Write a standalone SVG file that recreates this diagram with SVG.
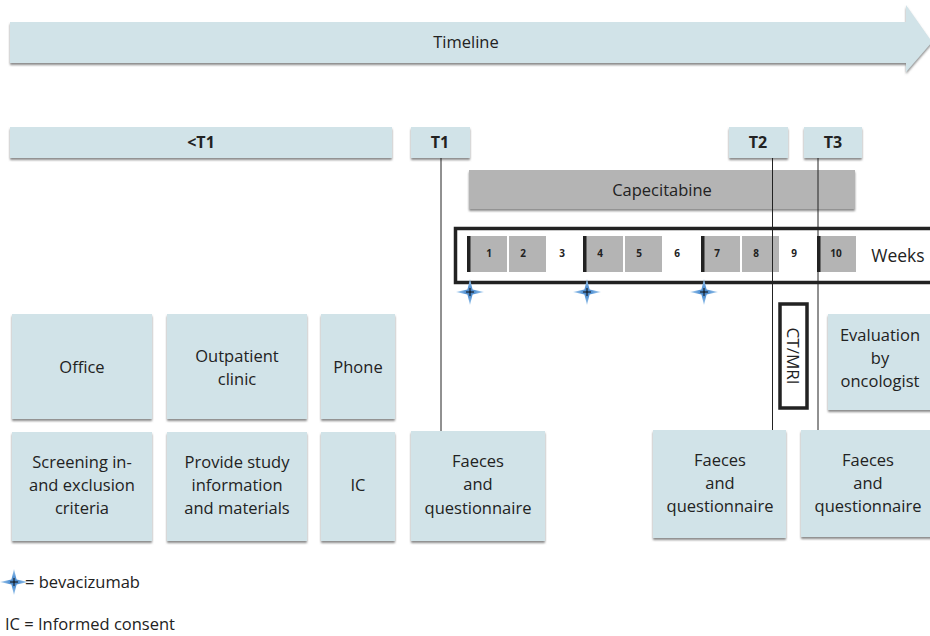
<svg xmlns="http://www.w3.org/2000/svg" width="930" height="636" viewBox="0 0 930 636">
<defs>
<filter id="sh" x="-10%" y="-10%" width="120%" height="130%">
<feDropShadow dx="0" dy="2" stdDeviation="1.2" flood-color="#6b6b6b" flood-opacity="0.8"/>
</filter>
<radialGradient id="sg" gradientUnits="userSpaceOnUse" cx="0" cy="0" r="14">
<stop offset="0" stop-color="#3f7cc0"/>
<stop offset="0.4" stop-color="#5d9ad8"/>
<stop offset="1" stop-color="#b3d4f0"/>
</radialGradient>
<g id="star">
<path d="M0,-13 L2.6,-2.6 L14,0 L2.6,2.6 L0,13 L-2.6,2.6 L-14,0 L-2.6,-2.6 Z" fill="url(#sg)"/>
<path d="M-4,0 H4 M0,-4 V4" stroke="#111" stroke-width="1"/>
</g>
</defs>
<style>
.b{fill:#d1e3e8;filter:url(#sh)}
.g{fill:#b4b4b4}
.t{font-family:"Open Sans","Liberation Sans",sans-serif;font-size:16.5px;fill:#222;text-anchor:middle}
.h{font-family:"Open Sans","Liberation Sans",sans-serif;font-size:16px;font-weight:bold;fill:#222;text-anchor:middle}
.w{font-family:"Open Sans","Liberation Sans",sans-serif;font-size:10px;font-weight:bold;fill:#222;text-anchor:middle}
.bar{fill:#222}
.ln{stroke:#222;stroke-width:1;fill:none}
</style>
<rect width="930" height="636" fill="#fff"/>

<g id="timeline">
<path class="b" d="M10,22 H906 V5 L932,42 L906,72 V63 H10 Z"/>
<text class="t" x="466" y="48">Timeline</text>
</g>

<g id="lt1"><rect class="b" x="10" y="127" width="382" height="31"/><text class="h" x="201" y="148">&lt;T1</text></g>
<g id="t1"><rect class="b" x="411" y="127" width="59" height="31"/><text class="h" x="440" y="148">T1</text></g>
<g id="t2"><rect class="b" x="729" y="127" width="59" height="31"/><text class="h" x="758" y="148">T2</text></g>
<g id="t3"><rect class="b" x="804" y="127" width="58" height="31"/><text class="h" x="833" y="148">T3</text></g>

<g id="capecitabine"><rect class="g" x="469" y="170" width="386" height="39" style="filter:url(#sh)"/><text class="t" x="662" y="196">Capecitabine</text></g>

<g id="weeks">
<rect x="455.5" y="228.5" width="490" height="54" fill="#fff" stroke="#222" stroke-width="3.5"/>
<rect class="g" x="467" y="236" width="40" height="36"/><rect class="bar" x="467" y="236" width="3.5" height="36"/>
<rect class="g" x="509" y="236" width="37" height="36"/>
<rect class="g" x="583" y="236" width="40" height="36"/><rect class="bar" x="583" y="236" width="3.5" height="36"/>
<rect class="g" x="625" y="236" width="37" height="36"/>
<rect class="g" x="701" y="236" width="39" height="36"/><rect class="bar" x="701" y="236" width="3.5" height="36"/>
<rect class="g" x="742" y="236" width="37" height="36"/>
<rect class="g" x="817" y="236" width="39" height="36"/><rect class="bar" x="817" y="236" width="3.5" height="36"/>
<text class="w" x="489" y="257">1</text>
<text class="w" x="523" y="257">2</text>
<text class="w" x="562" y="257">3</text>
<text class="w" x="600" y="257">4</text>
<text class="w" x="639" y="257">5</text>
<text class="w" x="677" y="257">6</text>
<text class="w" x="717" y="257">7</text>
<text class="w" x="756" y="257">8</text>
<text class="w" x="794" y="257">9</text>
<text class="w" x="836" y="257">10</text>
<text class="t" x="898" y="262" style="font-size:17.5px">Weeks</text>
</g>

<g id="stars">
<use href="#star" x="470" y="292"/>
<use href="#star" x="587" y="292"/>
<use href="#star" x="704" y="292"/>
</g>

<g id="connectors">
<line class="ln" x1="441" y1="158" x2="441" y2="431"/>
<line class="ln" x1="772.5" y1="158" x2="772.5" y2="430"/>
<line class="ln" x1="818" y1="158" x2="818" y2="430"/>
</g>

<g id="ctmri">
<rect x="780" y="304" width="27" height="104" fill="#fff" stroke="#222" stroke-width="3.5"/>
<text class="t" transform="translate(787,356) rotate(90)" x="0" y="0" style="font-size:17px">CT/MRI</text>
</g>

<g id="evaluation"><rect class="b" x="828" y="314" width="105" height="96"/>
<text class="t" x="880" y="341">Evaluation</text><text class="t" x="880" y="364">by</text><text class="t" x="880" y="387">oncologist</text></g>

<g id="office"><rect class="b" x="12" y="314" width="140" height="105"/><text class="t" x="82" y="373">Office</text></g>
<g id="outpatient"><rect class="b" x="167" y="314" width="140" height="105"/><text class="t" x="237" y="362">Outpatient</text><text class="t" x="237" y="385">clinic</text></g>
<g id="phone"><rect class="b" x="321" y="314" width="74" height="105"/><text class="t" x="358" y="373">Phone</text></g>

<g id="screening"><rect class="b" x="12" y="432" width="140" height="109"/><text class="t" x="82" y="468">Screening in-</text><text class="t" x="82" y="491">and exclusion</text><text class="t" x="82" y="514">criteria</text></g>
<g id="provide"><rect class="b" x="167" y="432" width="140" height="109"/><text class="t" x="237" y="468">Provide study</text><text class="t" x="237" y="491">information</text><text class="t" x="237" y="514">and materials</text></g>
<g id="ic"><rect class="b" x="321" y="432" width="74" height="109"/><text class="t" x="358" y="491">IC</text></g>
<g id="faeces1"><rect class="b" x="411" y="431" width="134" height="110"/><text class="t" x="478" y="467">Faeces</text><text class="t" x="478" y="490">and</text><text class="t" x="478" y="514">questionnaire</text></g>
<g id="faeces2"><rect class="b" x="653" y="430" width="133" height="108"/><text class="t" x="720" y="466">Faeces</text><text class="t" x="720" y="489">and</text><text class="t" x="720" y="512">questionnaire</text></g>
<g id="faeces3"><rect class="b" x="801" y="430" width="134" height="107"/><text class="t" x="868" y="466">Faeces</text><text class="t" x="868" y="489">and</text><text class="t" x="868" y="512">questionnaire</text></g>

<g id="legend">
<use href="#star" x="14" y="582"/>
<text class="t" x="25" y="588" style="text-anchor:start">= bevacizumab</text>
<text class="t" x="5" y="630" style="text-anchor:start">IC = Informed consent</text>
</g>
</svg>
